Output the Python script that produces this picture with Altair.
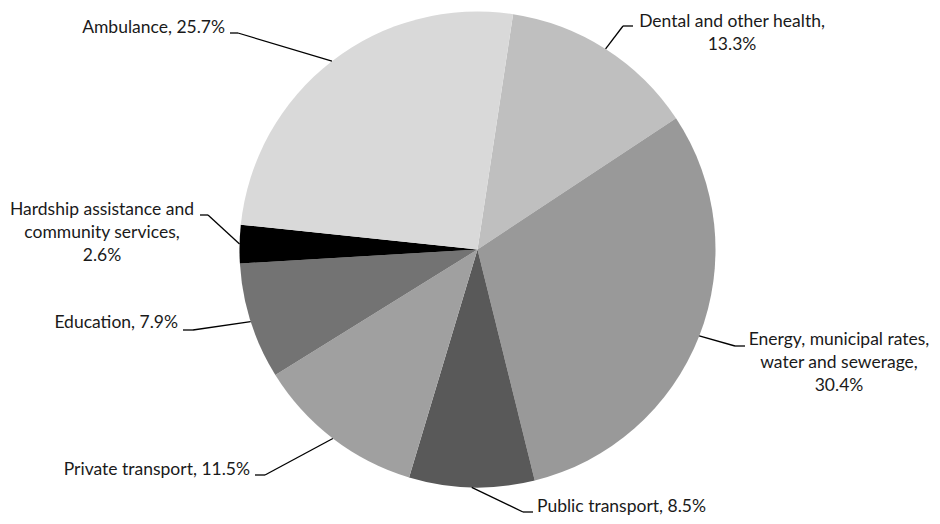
import math
import altair as alt
import pandas as pd

# ---- data ----
categories = [
    "Dental and other health",
    "Energy, municipal rates, water and sewerage",
    "Public transport",
    "Private transport",
    "Education",
    "Hardship assistance and community services",
    "Ambulance",
]
values = [13.3, 30.4, 8.5, 11.5, 7.9, 2.6, 25.7]
label_texts = [
    "Dental and other health,\n13.3%",
    "Energy, municipal rates,\nwater and sewerage,\n30.4%",
    "Public transport,  8.5%",
    "Private transport,  11.5%",
    "Education, 7.9%",
    "Hardship assistance and\ncommunity services,\n2.6%",
    "Ambulance, 25.7%",
]

# ---- style ----
colors = ["#bfbfbf", "#999999", "#595959", "#a0a0a0", "#737373", "#000000", "#d9d9d9"]
FONT = "Lato"
FSIZE = 17.5

# ---- layout (chart pixel coordinates) ----
W, H = 924, 508
CX, CY, R = 469.5, 241.5, 238
START = math.radians(8.6)

# label anchor x, y (first line), align ; elbow x, y ; leader end x
label_x = [724, 831, 529, 242, 170, 94, 217]
label_y = [14, 332, 499, 462, 315, 202, 20]
label_align = ["center", "center", "left", "right", "right", "center", "right"]
elbow_x = [615, 727, 515, 257, 185, 200, 230]
elbow_y = [18, 338, 504, 467, 322, 207, 25]
end_x = [625, 737, 525, 247, 175, 192, 222]

df = pd.DataFrame({
    "cat": categories,
    "value": values,
    "idx": list(range(len(categories))),
    "label": label_texts,
    "lx": label_x,
    "ly": label_y,
    "align": label_align,
    "ex": elbow_x,
    "ey": elbow_y,
    "hx": end_x,
})

base = alt.Chart(df)

pie = base.mark_arc(outerRadius=R, stroke=None, x=CX, y=CY).encode(
    theta=alt.Theta("value:Q", stack=True,
                    scale=alt.Scale(range=[START, START + 2 * math.pi])),
    order=alt.Order("idx:Q"),
    color=alt.Color("cat:N", scale=alt.Scale(domain=categories, range=colors),
                    legend=None),
)

edge = base.transform_joinaggregate(total="sum(value)").transform_window(
    cum="sum(value)", sort=[alt.SortField("idx")], frame=[None, 0]
).transform_calculate(
    mid=f"(datum.cum - datum.value/2)/datum.total*2*PI + {START}",
).transform_calculate(
    px=f"{CX} + {R}*sin(datum.mid)",
    py=f"{CY} - {R}*cos(datum.mid)",
)

diag = edge.mark_rule(color="black", strokeWidth=1.3).encode(
    x=alt.X("px:Q", scale=None, axis=None),
    y=alt.Y("py:Q", scale=None, axis=None),
    x2="ex:Q",
    y2="ey:Q",
)

horiz = base.mark_rule(color="black", strokeWidth=1.3).encode(
    x=alt.X("ex:Q", scale=None, axis=None),
    x2="hx:Q",
    y=alt.Y("ey:Q", scale=None, axis=None),
)

def text_layer(al):
    return base.transform_filter(alt.datum.align == al).mark_text(
        align=al, baseline="middle", lineBreak="\n", lineHeight=23,
        font=FONT, fontSize=FSIZE, color="#1a1a1a",
    ).encode(
        x=alt.X("lx:Q", scale=None, axis=None),
        y=alt.Y("ly:Q", scale=None, axis=None),
        text="label:N",
    )

chart = alt.layer(
    pie, diag, horiz, text_layer("left"), text_layer("right"), text_layer("center")
).properties(
    width=W, height=H, padding=0, autosize=alt.AutoSizeParams(type="none"),
    background="white",
).configure_view(stroke=None)

chart.save("out.html", embed_options={"renderer": "svg", "actions": False})
